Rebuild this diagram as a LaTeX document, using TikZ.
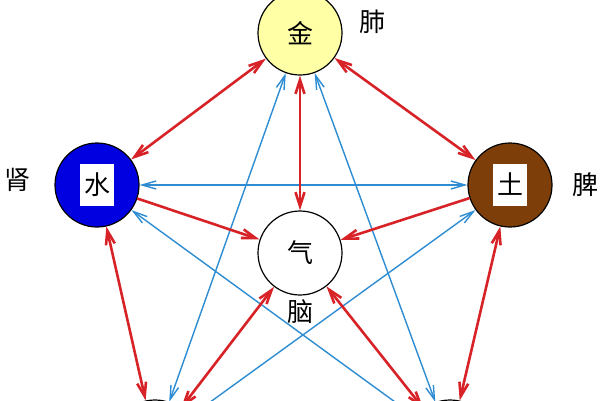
\documentclass[tikz,border=0pt]{standalone}
\usepackage{fontspec}
\setmainfont{Noto Sans CJK SC}
\usetikzlibrary{arrows.meta}
\definecolor{jinyellow}{RGB}{255,255,165}
\definecolor{shuiblue}{RGB}{0,0,225}
\definecolor{tubrown}{RGB}{125,62,10}
\definecolor{linkred}{RGB}{215,35,40}
\definecolor{linkblue}{RGB}{45,140,210}
\newcommand{\tagbox}[1]{\setlength{\fboxsep}{4pt}\colorbox{white}{\rule[-8pt]{0pt}{34pt}#1}}
\begin{document}
\begin{tikzpicture}[x=1pt, y=-1pt, font=\fontsize{26}{28}\selectfont]
        \tikzstyle{vertex} = [shape = circle, minimum size = 84pt, inner sep = 0pt, draw = black, line width = 1.2pt]
        \tikzstyle{redlink} = [linkred, line width = 2.6pt, {Straight Barb[length=14pt,width=9pt]}-{Straight Barb[length=14pt,width=9pt]}]
        \tikzstyle{redto} = [linkred, line width = 2.6pt, -{Straight Barb[length=14pt,width=9pt]}]
        \tikzstyle{bluelink} = [linkblue, line width = 1.4pt, {Straight Barb[length=14pt,width=8pt]}-{Straight Barb[length=14pt,width=8pt]}]
        \useasboundingbox (0, 0) rectangle (600, 400);
        \clip (0, 0) rectangle (600, 400);
        \node[vertex] (Jin) at (300, 33) [fill = jinyellow] {金};
        \node[vertex] (Shui) at (97, 185) [fill = shuiblue] {\tagbox{水}};
        \node[vertex] (Tu) at (510, 185) [fill = tubrown] {\tagbox{土}};
        \node[vertex] (Qi) at (300, 253) [fill = white] {气};
        \node[vertex] (Mu) at (155, 442) [fill = white] {};
        \node[vertex] (Huo) at (450, 442) [fill = white] {};
        \node (Fei) at (372, 22) {肺};
        \node (Shen) at (18, 180) {肾};
        \node (Pi) at (585, 185) {脾};
        \node (Nao) at (300, 312) {脑};
        % star
        \draw[bluelink] (Tu) -- (Shui);
        \draw[bluelink] (Jin) -- (Mu);
        \draw[bluelink] (Jin) -- (Huo);
        \draw[bluelink] (Shui) -- (Huo);
        \draw[bluelink] (Tu) -- (Mu);
        % ring
        \draw[redlink] (Jin) -- (Shui);
        \draw[redlink] (Jin) -- (Tu);
        \draw[redlink] (Shui) -- (Mu);
        \draw[redlink] (Tu) -- (Huo);
        \draw[redlink] (Mu) -- (Huo);
        % to the centre
        \draw[redlink] (Jin) -- (Qi);
        \draw[redto] (Shui) -- (Qi);
        \draw[redto] (Tu) -- (Qi);
        \draw[redlink] (Mu) -- (Qi);
        \draw[redlink] (Huo) -- (Qi);
      \end{tikzpicture}
\end{document}
